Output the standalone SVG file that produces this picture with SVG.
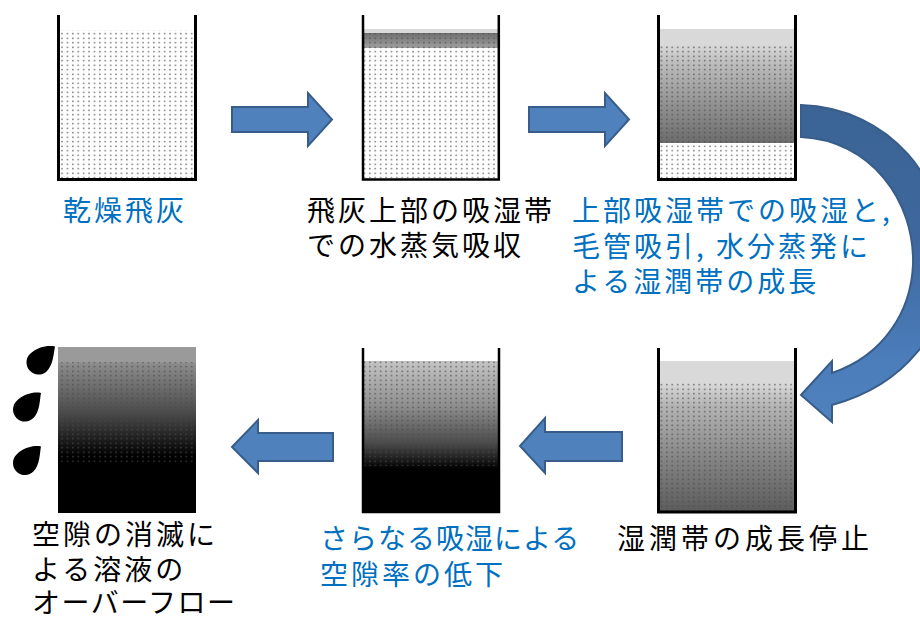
<svg xmlns="http://www.w3.org/2000/svg" width="920" height="621" viewBox="0 0 920 621">
  <style>
    .wall { fill: none; stroke: #000; stroke-width: 3; }
    .wall-thin { fill: none; stroke: #000; stroke-width: 2.5; }
    .arrow { fill: #4f81bd; stroke: #385d8a; stroke-width: 2; stroke-linejoin: miter; }
    .label { font-family: "Noto Sans CJK JP", "Noto Sans", sans-serif; font-size: 28px; letter-spacing: 3px; }
    .blue { fill: #0070c0; }
    .black { fill: #000; }
    .drop { fill: #000; }
  </style>
  <defs>
    <!-- ash particles -->
    <pattern id="dots" width="5.4" height="4.5" patternUnits="userSpaceOnUse">
      <rect x="2" y="1.6" width="1.3" height="1.3" fill="#4a4a4a"/>
    </pattern>
    <linearGradient id="g-band" x1="0" y1="0" x2="0" y2="1">
      <stop offset="0" stop-color="#6e6e6e"/>
      <stop offset="1" stop-color="#a0a0a0"/>
    </linearGradient>
    <linearGradient id="g-wet3" gradientUnits="userSpaceOnUse" x1="0" y1="29" x2="0" y2="143">
      <stop offset="0" stop-color="#d9d9d9"/>
      <stop offset="0.14" stop-color="#d9d9d9"/>
      <stop offset="0.3" stop-color="#bdbdbd"/>
      <stop offset="0.65" stop-color="#939393"/>
      <stop offset="1" stop-color="#6c6c6c"/>
    </linearGradient>
    <linearGradient id="g-wet4" gradientUnits="userSpaceOnUse" x1="0" y1="361" x2="0" y2="511">
      <stop offset="0" stop-color="#d9d9d9"/>
      <stop offset="0.15" stop-color="#d9d9d9"/>
      <stop offset="0.3" stop-color="#b4b4b4"/>
      <stop offset="0.65" stop-color="#858585"/>
      <stop offset="1" stop-color="#5c5c5c"/>
    </linearGradient>
    <linearGradient id="g-wet5" gradientUnits="userSpaceOnUse" x1="0" y1="361" x2="0" y2="511">
      <stop offset="0" stop-color="#c4c4c4"/>
      <stop offset="0.3" stop-color="#8e8e8e"/>
      <stop offset="0.55" stop-color="#4a4a4a"/>
      <stop offset="0.72" stop-color="#000"/>
      <stop offset="1" stop-color="#000"/>
    </linearGradient>
    <linearGradient id="g-wet6" gradientUnits="userSpaceOnUse" x1="0" y1="347" x2="0" y2="513">
      <stop offset="0" stop-color="#9a9a9a"/>
      <stop offset="0.09" stop-color="#9a9a9a"/>
      <stop offset="0.1" stop-color="#8c8c8c"/>
      <stop offset="0.4" stop-color="#4a4a4a"/>
      <stop offset="0.66" stop-color="#000"/>
      <stop offset="1" stop-color="#000"/>
    </linearGradient>
    <linearGradient id="g-curve" gradientUnits="userSpaceOnUse" x1="0" y1="105" x2="0" y2="422">
      <stop offset="0" stop-color="#3b6395"/>
      <stop offset="0.45" stop-color="#3e699e"/>
      <stop offset="0.8" stop-color="#4b7dbb"/>
      <stop offset="1" stop-color="#4f81bd"/>
    </linearGradient>
    <path id="droplet" d="M0,-23 C4,-17 12,-9 12,0 A12,12 0 0 1 -12,0 C-12,-10 -6,-19 0,-23 Z"/>
  </defs>

  <!-- stage 1: dry fly ash -->
  <g id="stage1">
    <rect x="60" y="30" width="134" height="148" fill="#fff"/>
    <rect x="60" y="30" width="134" height="148" fill="url(#dots)"/>
    <path class="wall" d="M58.5,15 V179.5 H195.5 V15"/>
    <text class="label blue" x="63" y="221">乾燥飛灰</text>
  </g>

  <!-- stage 2: vapour uptake at the top -->
  <g id="stage2">
    <rect x="364" y="29" width="134" height="149" fill="#fff"/>
    <rect x="364" y="29" width="134" height="4" fill="#d9d9d9"/>
    <rect x="364" y="33" width="134" height="15" fill="url(#g-band)"/>
    <rect x="364" y="33" width="134" height="145" fill="url(#dots)"/>
    <path class="wall-thin" d="M363,15 V179.5 H498.8 V15"/>
    <text class="label black" x="307" y="221">
      <tspan x="307" y="221">飛灰上部の吸湿帯</tspan>
      <tspan x="307" y="256">での水蒸気吸収</tspan>
    </text>
  </g>

  <!-- stage 3: wet zone grows -->
  <g id="stage3">
    <rect x="660" y="29" width="134" height="149" fill="#fff"/>
    <rect x="660" y="29" width="134" height="114" fill="url(#g-wet3)"/>
    <rect x="660" y="45" width="134" height="133" fill="url(#dots)"/>
    <path class="wall" d="M658.5,15 V179.5 H795.5 V15"/>
    <text class="label blue" x="572" y="221">
      <tspan x="572" y="221">上部吸湿帯での吸湿と,</tspan>
      <tspan x="572" y="256.5">毛管吸引, 水分蒸発に</tspan>
      <tspan x="572" y="292">よる湿潤帯の成長</tspan>
    </text>
  </g>

  <!-- stage 4: growth stops -->
  <g id="stage4">
    <rect x="660" y="361" width="134" height="150" fill="url(#g-wet4)"/>
    <rect x="660" y="383" width="134" height="128" fill="url(#dots)"/>
    <path class="wall" d="M658.5,348 V512 H795.5 V348"/>
    <text class="label black" x="617" y="549" style="letter-spacing:4px">湿潤帯の成長停止</text>
  </g>

  <!-- stage 5: porosity drops -->
  <g id="stage5">
    <rect x="364" y="361" width="134" height="151" fill="url(#g-wet5)"/>
    <rect x="364" y="361" width="134" height="105" fill="url(#dots)"/>
    <path class="wall-thin" d="M363,348 V512 H499 V348"/>
    <text class="label blue" x="320" y="549">
      <tspan x="320" y="549" style="letter-spacing:1px">さらなる吸湿による</tspan>
      <tspan x="320" y="585">空隙率の低下</tspan>
    </text>
  </g>

  <!-- stage 6: solution overflows -->
  <g id="stage6">
    <rect x="58" y="347" width="138" height="166" fill="url(#g-wet6)"/>
    <rect x="58" y="362" width="138" height="100" fill="url(#dots)"/>
    <use href="#droplet" class="drop" transform="translate(38.5,362.5) rotate(46)"/>
    <use href="#droplet" class="drop" transform="translate(25,409.5) rotate(44)"/>
    <use href="#droplet" class="drop" transform="translate(25,463) rotate(44)"/>
    <text class="label black" x="32" y="545">
      <tspan x="32" y="545">空隙の消滅に</tspan>
      <tspan x="32" y="579.5">よる溶液の</tspan>
      <tspan x="32" y="612.5" style="letter-spacing:1.5px">オーバーフロー</tspan>
    </text>
  </g>

  <!-- process arrows -->
  <g id="connectors">
    <polygon class="arrow" points="232,107 308,107 308,93 332,119.5 308,146 308,132 232,132"/>
    <polygon class="arrow" points="529,107 605,107 605,93 629,119.5 605,146 605,132 529,132"/>
    <path class="arrow" style="fill:url(#g-curve)" d="M801,105 C890,108 948,180 948,265 C948,330 905,385 832,405 L832,422 L801,395 L832,361 L832,373 C885,355 911,310 913,265 C915,200 870,140 801,137 Z"/>
    <polygon class="arrow" points="520,446 545,418 545,432 622,432 622,461 545,461 545,473"/>
    <polygon class="arrow" points="232,447 258,420 258,433 333,433 333,461 258,461 258,473"/>
  </g>
</svg>
